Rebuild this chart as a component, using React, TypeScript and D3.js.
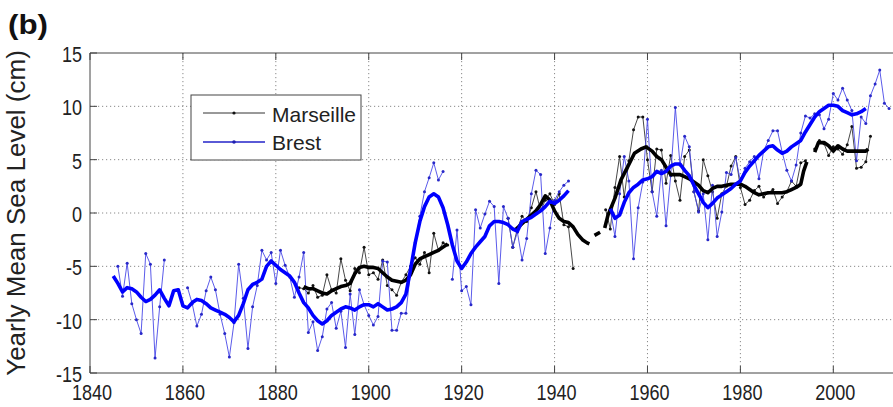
import React from "react";
import * as d3 from "d3";

// yearly mean sea level, cm (null = no data)
const brestStart = 1846;
const brestSea = [
  -5.0, -7.8, -4.7, -8.5, -10.0, -11.3, -3.8, -4.8, -13.6, -8.8, -4.4, // 1846-1856
  null, null, null, null,
  -7.0, -8.5, -10.6, -9.5, -7.3, -6.0, -7.2, -9.5, -11.3, -13.5, // 1861-1870
  -10.3, -4.8, -8.0, -12.7, -8.8, -6.8, -3.5, -4.4, -3.7, -6.6, // 1871-1880
  -3.5, -4.9, -6.0, -7.9, -6.0, -3.7, -11.2, -10.2, -12.9, -11.6, // 1881-1890
  -9.0, -8.4, -10.8, -9.2, -12.6, -7.6, -11.4, -7.2, -8.6, -9.6, // 1891-1900
  -10.5, -9.7, -4.5, -4.6, -11.0, -11.0, -9.4, -9.4, -5.5, -2.8, // 1901-1910
  -0.3, 2.0, 3.3, 4.7, 3.1, 3.9, // 1911-1916
  null,
  -6.2, -1.6, -7.3, // 1918-1920
  -6.9, -8.6, 0.3, -1.4, -0.1, 1.1, 0.6, -6.6, 0.6, -0.5, // 1921-1930
  -3.2, -1.8, -4.4, -2.4, 1.8, 4.0, 3.6, -3.8, -1.4, 1.2, // 1931-1940
  2.0, 2.6, 3.0, // 1941-1943
  null, null, null, null, null, null, null, null,
  0.3, -2.2, 1.8, 5.3, 3.0, -4.3, 0.5, 2.9, 8.8, 2.0, // 1952-1961
  -0.3, 4.0, -1.2, 3.5, 9.9, 4.5, 7.2, 6.2, 2.0, 0.1, // 1962-1971
  1.8, -2.5, 2.6, -2.2, 0.1, 3.8, 3.6, 5.2, 3.0, 4.2, // 1972-1981
  4.8, 5.3, 3.2, 5.8, 6.8, 7.7, 7.7, 5.7, 4.0, 3.0, // 1982-1991
  4.5, 7.5, 9.1, 8.9, 9.3, 9.2, 7.9, 8.8, 11.2, 10.6, // 1992-2001
  11.7, 10.6, 9.6, 4.9, 9.0, 8.4, 11.0, 12.1, 13.4, 10.3, // 2002-2011
  9.8,
];

const marseilleStart = 1885;
const marseilleSea = [
  -7.0, -7.1, -7.5, -6.8, -7.9, -7.7, -5.8, -7.2, -7.5, -4.3, // 1885-1894
  -6.3, -7.3, -5.2, -5.6, -3.2, -5.8, -5.6, -6.2, -4.4, -6.8, // 1895-1904
  -7.2, -7.7, -6.5, -5.8, -5.0, -4.2, -4.8, -3.7, -5.6, -1.9, // 1905-1914
  -3.5, -2.8, -3.0, // 1915-1917
  null, null, null, null, null, null, null, null, null, null, null, null,
  -0.5, -3.2, -1.5, -0.3, -0.8, 0.5, 2.0, 0.2, 1.2, 1.8, // 1930-1939
  0.8, 1.8, -1.1, -1.3, -5.2, // 1940-1944
  null, null, null, null, null, null,
  0.3, -1.5, 2.4, 5.3, 1.5, 4.9, 7.8, 9.0, 9.0, 5.0, // 1951-1960
  2.0, 6.0, 5.9, 2.8, 5.4, 3.0, 1.2, 5.3, 5.9, 2.0, // 1961-1970
  0.2, 5.0, 3.5, 2.0, -0.5, 1.8, 2.5, 4.4, 5.3, 2.4, // 1971-1980
  0.8, 1.2, 2.1, 2.5, 1.5, 1.9, 2.2, 0.9, 1.5, 2.0, // 1981-1990
  3.0, 2.5, 4.7, 4.9, // 1991-1994
  null,
  6.0, 6.8, 6.5, 5.4, 6.2, 6.0, 5.5, 6.4, 8.1, 4.2, // 1996-2005
  4.3, 4.8, 7.2, // 2006-2008
];

// smoothed curves (thick lines)
const brestSmoothStart = 1845;
const brestSmooth = [
  -5.9, -6.6, -7.4, -7.0, -7.1, -7.4, -7.9, -8.3, -8.1, -7.7, // 1845-1854
  -7.2, -8.0, -8.7, -7.3, -7.2, -8.7, -8.9, -8.4, -8.1, -8.2, // 1855-1864
  -8.5, -8.9, -9.1, -9.3, -9.5, -9.8, -10.2, -9.6, -8.5, -7.2, // 1865-1874
  -6.7, -6.5, -6.2, -5.0, -4.5, -4.9, -5.3, -5.6, -5.9, -6.5, // 1875-1884
  -7.5, -8.4, -8.9, -9.6, -10.1, -10.4, -10.1, -9.6, -9.3, -9.0, // 1885-1894
  -8.8, -8.9, -9.1, -8.8, -8.6, -8.6, -8.8, -8.5, -8.8, -9.1, // 1895-1904
  -9.0, -8.8, -8.4, -7.6, -5.3, -2.8, -0.8, 0.6, 1.5, 1.8, // 1905-1914
  1.5, 0.5, -1.1, -3.0, -4.5, -5.2, -4.6, -3.8, -3.2, -2.7, // 1915-1924
  -2.2, -1.2, -0.8, -0.8, -0.9, -1.1, -1.5, -1.7, -0.8, -0.6, // 1925-1934
  -0.4, -0.1, 0.2, 0.6, 1.1, 0.9, 1.2, 1.6, 2.1, // 1935-1943
  null, null, null, null, null, null, null, null,
  0.4, -0.5, -0.2, 1.0, 1.9, 2.4, 2.7, 3.1, 3.2, 3.4, // 1952-1961
  3.9, 3.7, 3.9, 4.4, 4.6, 4.6, 4.0, 3.5, 2.6, 1.8, // 1962-1971
  1.0, 0.5, 0.9, 1.4, 1.7, 2.0, 2.3, 2.7, 3.0, 3.8, // 1972-1981
  4.4, 4.9, 5.4, 5.8, 6.2, 6.3, 5.9, 5.6, 5.8, 6.2, // 1982-1991
  6.5, 6.8, 7.6, 8.3, 9.0, 9.5, 9.8, 10.1, 10.1, 10.0, // 1992-2001
  9.6, 9.4, 9.2, 9.3, 9.5, 9.8, // 2002-2007
];

const marseilleSmoothYears = [
  1886, 1887, 1888, 1889, 1890, 1891, 1892, 1893, 1894, 1895, 1896, 1897, 1898,
  1899, 1900, 1901, 1902, 1903, 1904, 1905, 1906, 1907, 1908, 1909, 1910, 1911,
  1912, 1913, 1914, 1915, 1916, 1917, 1918,
  1931.5, 1933, 1934, 1935, 1936, 1937, 1938, 1939, 1940, 1941, 1942, 1943,
  1944, 1945, 1946, 1947, 1947.5, 1948,
  1948.6, 1949.8, 1950.2,
  1950.8, 1951.5, 1953, 1954.3, 1955.7, 1957.2, 1958.6, 1959.7, 1961, 1962,
  1963, 1964, 1965, 1966, 1967, 1968, 1969, 1970, 1971, 1972, 1973, 1974, 1975,
  1976, 1977, 1978, 1979, 1980, 1981, 1982, 1983, 1984, 1985, 1986, 1987, 1988,
  1989, 1990, 1991, 1992, 1993, 1993.6, 1994.3, 1995,
  1996, 1996.8, 1998, 1999, 2000, 2001, 2002, 2003, 2004, 2005, 2006, 2007, 2007.5,
];
const marseilleSmooth = [
  -6.9, -7.1, -7.1, -7.3, -7.5, -7.6, -7.3, -7.1, -6.9, -6.8, -6.6, -5.7, -5.1,
  -5.0, -5.1, -5.1, -5.2, -5.6, -6.0, -6.3, -6.4, -6.5, -6.3, -5.8, -4.8, -4.3,
  -4.1, -3.9, -3.7, -3.5, -3.2, -2.9, null,
  -1.6, -1.0, -0.6, -0.2, 0.2, 0.8, 1.6, 1.2, 0.2, -0.5, -0.8, -0.9,
  -1.3, -2.0, -2.5, -2.8, -2.9, null,
  -2.1, -1.8, null,
  -1.4, -0.2, 1.4, 3.1, 4.3, 5.6, 6.0, 6.2, 5.8, 5.3,
  5.0, 4.3, 3.6, 3.6, 3.6, 3.4, 3.2, 2.9, 2.6, 2.1, 1.9, 2.3, 2.5,
  2.5, 2.6, 2.7, 2.7, 2.7, 2.5, 2.2, 1.9, 1.7, 1.8, 1.9, 1.9, 1.9,
  1.9, 2.0, 2.2, 2.4, 2.7, 3.9, 4.8, null,
  5.7, 6.6, 6.6, 6.3, 5.8, 6.3, 6.0, 5.8, 5.8, 5.8, 5.8, 5.8, 6.0,
];

const xTicks = [1840, 1860, 1880, 1900, 1920, 1940, 1960, 1980, 2000];
const yTicks = [-15, -10, -5, 0, 5, 10, 15];

type Pt = { year: number; value: number | null };

const fromStart = (start: number, vals: (number | null)[]): Pt[] =>
  vals.map((v, i) => ({ year: start + i, value: v }));

const W = 893;
const H = 407;
const left = 90;
const top = 53;
const bottom = 373;
const right = 896;

const x = d3.scaleLinear().domain([1840, 2000]).range([left, 833.3]);
const y = d3.scaleLinear().domain([-15, 15]).range([bottom, top]);

const line = d3
  .line<Pt>()
  .defined(d => d.value !== null)
  .x(d => x(d.year))
  .y(d => y(d.value as number));

const font = "'Liberation Sans', Arial, sans-serif";
const thinBlue = "#4848e8";

export default function App() {
  const brest = fromStart(brestStart, brestSea);
  const marseille = fromStart(marseilleStart, marseilleSea);
  const brestS = fromStart(brestSmoothStart, brestSmooth);
  const marseilleS = marseilleSmoothYears.map((yr, i) => ({ year: yr, value: marseilleSmooth[i] }));

  return (
    <svg
      width={W}
      height={H}
      style={{ position: "absolute", left: 0, top: 0, background: "#fff" }}
      fontFamily={font}
    >
      <rect x={0} y={0} width={W} height={H} fill="#fff" />

      {/* grid */}
      <g stroke="#8a8a8a" strokeWidth={1} strokeDasharray="1.2,2.8">
        {xTicks.slice(1).map(t => (
          <line key={"gx" + t} x1={x(t)} x2={x(t)} y1={top} y2={bottom} />
        ))}
        {yTicks.slice(1, -1).map(t => (
          <line key={"gy" + t} x1={left} x2={right} y1={y(t)} y2={y(t)} />
        ))}
      </g>

      {/* thin series */}
      <path d={line(marseille) || ""} fill="none" stroke="#333" strokeWidth={0.9} />
      {marseille.filter(d => d.value !== null).map(d => (
        <circle key={"m" + d.year} cx={x(d.year)} cy={y(d.value as number)} r={1.5} fill="#111" />
      ))}
      <path d={line(brest) || ""} fill="none" stroke={thinBlue} strokeWidth={0.9} />
      {brest.filter(d => d.value !== null).map(d => (
        <circle key={"b" + d.year} cx={x(d.year)} cy={y(d.value as number)} r={1.5} fill="#2828c8" />
      ))}

      {/* smoothed series */}
      <path d={line(marseilleS) || ""} fill="none" stroke="#000" strokeWidth={3.6} strokeLinejoin="round" />
      <path d={line(brestS) || ""} fill="none" stroke="#0000ff" strokeWidth={3.6} strokeLinejoin="round" />

      {/* axes box and ticks */}
      <g stroke="#444" strokeWidth={1} fill="none">
        <line x1={left} x2={right} y1={top} y2={top} />
        <line x1={left} x2={right} y1={bottom} y2={bottom} />
        <line x1={left} x2={left} y1={top} y2={bottom} />
        {xTicks.map(t => (
          <g key={"tx" + t}>
            <line x1={x(t)} x2={x(t)} y1={bottom} y2={bottom - 7} />
            <line x1={x(t)} x2={x(t)} y1={top} y2={top + 7} />
          </g>
        ))}
        {yTicks.map(t => (
          <line key={"ty" + t} x1={left} x2={left + 7} y1={y(t)} y2={y(t)} />
        ))}
      </g>

      {/* tick labels */}
      <g fontSize={22} fill="#222">
        {yTicks.map(t => (
          <text key={"ly" + t} transform={`translate(${left - 8},${y(t) + 9}) scale(0.82,1)`} textAnchor="end">
            {t}
          </text>
        ))}
        {xTicks.map(t => (
          <text key={"lx" + t} transform={`translate(${x(t) + 2},${bottom + 27}) scale(0.82,1)`} textAnchor="middle">
            {t}
          </text>
        ))}
      </g>

      {/* axis title and panel label */}
      <text
        transform={`translate(25,213) rotate(-90)`}
        textAnchor="middle"
        fontSize={26}
        fill="#222"
      >
        Yearly Mean Sea Level (cm)
      </text>
      <text transform="translate(8,34) scale(1.12,1)" fontSize={28} fontWeight="bold" fill="#111">
        (b)
      </text>

      {/* legend */}
      <g>
        <rect x={191} y={95} width={170} height={65} fill="#fff" stroke="#444" strokeWidth={1} />
        <line x1={203} x2={265} y1={113} y2={113} stroke="#333" strokeWidth={1} />
        <circle cx={234} cy={113} r={1.6} fill="#111" />
        <text x={272} y={122} fontSize={21} fill="#222">
          Marseille
        </text>
        <line x1={203} x2={265} y1={142} y2={142} stroke="#2323c8" strokeWidth={1.6} />
        <circle cx={234} cy={142} r={1.8} fill="#2020b0" />
        <text x={272} y={150} fontSize={21} fill="#222">
          Brest
        </text>
      </g>
    </svg>
  );
}
